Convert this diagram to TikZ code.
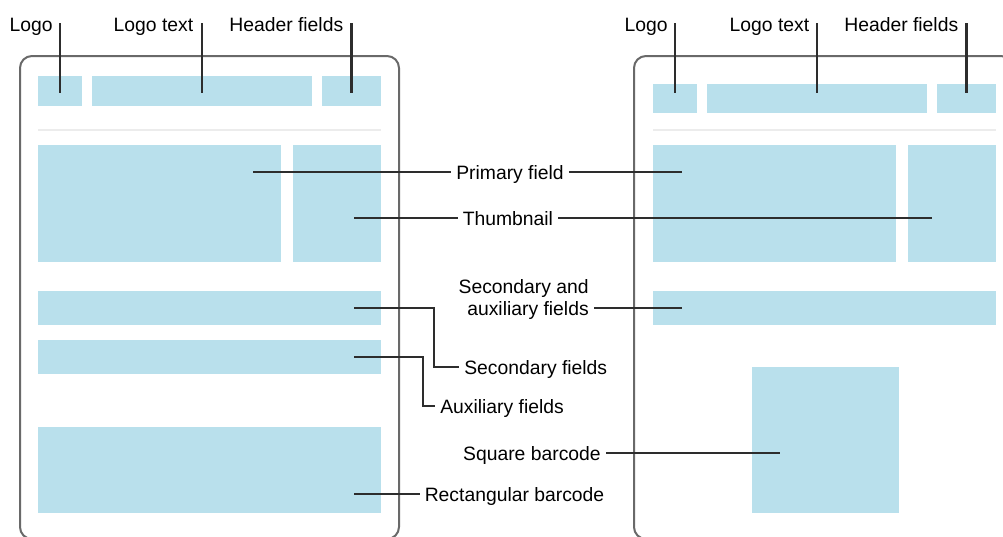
\documentclass[tikz,border=0pt]{standalone}
\usepackage{fontspec}
\setmainfont{Liberation Sans}
\definecolor{fieldblue}{RGB}{185,224,236}
\definecolor{panelgray}{RGB}{105,105,105}
\definecolor{leadergray}{RGB}{45,45,45}
\definecolor{sepgray}{RGB}{236,236,236}
\newdimen\pxu \pxu=0.75pt
\newcommand\fieldbox[5]{\node[field, minimum width=#4\pxu, minimum height=#5\pxu] (#1) at (#2,#3) {};}
\begin{document}
\begin{tikzpicture}[x=0.75pt,y=-0.75pt,
  field/.style={fill=fieldblue, draw=none, inner sep=0pt, outer sep=0pt, anchor=north west},
  panel/.style={draw=panelgray, line width=1.5pt, rounded corners=9pt},
  leader/.style={draw=leadergray, line width=1.6pt},
  sepline/.style={draw=sepgray, line width=1.5pt},
  lbl/.style={font=\fontsize{14.5}{16.5}\selectfont, inner xsep=3.75pt, inner ysep=0pt, text=black}]
\useasboundingbox (0,0) rectangle (1003,536);

% panels
\draw[panel] (20,56) rectangle (399,539);
\draw[panel] (634,56) rectangle (1013,539);

% left panel fields
\fieldbox{lLogo}{38}{76}{44}{30}
\fieldbox{lLogoText}{92}{76}{220}{30}
\fieldbox{lHeader}{322}{76}{59}{30}
\draw[sepline] (38,130) -- (381,130);
\fieldbox{lPrimary}{38}{145}{243}{117}
\fieldbox{lThumb}{293}{145}{88}{117}
\fieldbox{lSecondary}{38}{291}{343}{34}
\fieldbox{lAux}{38}{340}{343}{34}
\fieldbox{lBarcode}{38}{427}{343}{86}

% right panel fields
\fieldbox{rLogo}{653}{84}{44}{29}
\fieldbox{rLogoText}{707}{84}{220}{29}
\fieldbox{rHeader}{937}{84}{59}{29}
\draw[sepline] (653,130) -- (996,130);
\fieldbox{rPrimary}{653}{145}{243}{117}
\fieldbox{rThumb}{908}{145}{88}{117}
\fieldbox{rSecAux}{653}{291}{343}{34}
\fieldbox{rSquare}{752}{367}{147}{146}

% top labels
\node[lbl, anchor=base east] (tLogoL) at (58,31) {Logo};
\node[lbl, anchor=base east] (tLogoTextL) at (198.5,31) {Logo text};
\node[lbl, anchor=base east] (tHeaderL) at (348.5,31) {Header fields};
\node[lbl, anchor=base east] (tLogoR) at (673,31) {Logo};
\node[lbl, anchor=base east] (tLogoTextR) at (814.5,31) {Logo text};
\node[lbl, anchor=base east] (tHeaderR) at (963.5,31) {Header fields};
\coordinate (topY) at (0,23);
\coordinate (endY) at (0,93);
\foreach \b in {lLogo,lLogoText,lHeader,rLogo,rLogoText,rHeader}
  \draw[leader] (\b.center |- topY) -- (\b.center |- endY);

% middle labels
\node[lbl, anchor=base west] (tPrimary) at (451,179) {Primary field};
\node[lbl, anchor=base west] (tThumb) at (457.5,225) {Thumbnail};
\node[lbl, anchor=base east, align=right] (tSecAux) at (594,315) {Secondary and\\auxiliary fields};
\node[lbl, anchor=base west] (tSec) at (459,374) {Secondary fields};
\node[lbl, anchor=base west] (tAux) at (435,413) {Auxiliary fields};
\node[lbl, anchor=base east] (tSquare) at (606,460) {Square barcode};
\node[lbl, anchor=base west] (tRect) at (419.5,501) {Rectangular barcode};

% leader end coordinates
\coordinate (cPrimL) at (253,172);
\coordinate (cPrimR) at (682,172);
\coordinate (cThumbL) at (354,218);
\coordinate (cThumbR) at (932,218);
\coordinate (cSecAuxR) at (682,308);
\coordinate (cSecL) at (354,308);
\coordinate (cAuxL) at (354,357);
\coordinate (cSquare) at (780,453);
\coordinate (cRect) at (354,494);

\draw[leader] (cPrimL) -- (cPrimL -| tPrimary.west);
\draw[leader] (cPrimR -| tPrimary.east) -- (cPrimR);
\draw[leader] (cThumbL) -- (cThumbL -| tThumb.west);
\draw[leader] (cThumbR -| tThumb.east) -- (cThumbR);
\draw[leader] (cSecAuxR -| tSecAux.east) -- (cSecAuxR);
\draw[leader] (cSecL) -- (434,308) -- (434,367) -- (tSec.west |- 0,367);
\draw[leader] (cAuxL) -- (423,357) -- (423,406) -- (tAux.west |- 0,406);
\draw[leader] (cSquare -| tSquare.east) -- (cSquare);
\draw[leader] (cRect) -- (cRect -| tRect.west);
\end{tikzpicture}
\end{document}
